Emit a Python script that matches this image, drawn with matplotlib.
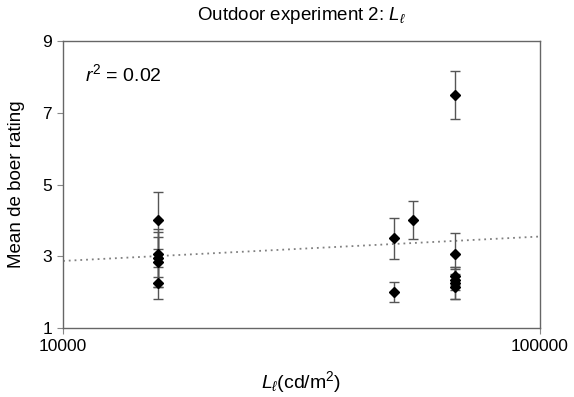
import matplotlib
matplotlib.use("Agg")
import matplotlib.pyplot as plt
from matplotlib.ticker import FixedLocator, FixedFormatter, NullLocator

plt.rcParams['font.family'] = ['Liberation Sans', 'DejaVu Sans']
plt.rcParams['mathtext.fontset'] = 'custom'
plt.rcParams['mathtext.rm'] = 'Liberation Sans'
plt.rcParams['mathtext.it'] = 'Liberation Sans:italic'
plt.rcParams['mathtext.bf'] = 'Liberation Sans:bold'

# data
lum = [15800, 15800, 15800, 15800, 15800,
       49400, 49400,
       54100,
       66300, 66300, 66300, 66300, 66300, 66300]
rating = [4.0, 3.05, 2.95, 2.85, 2.25,
          3.5, 2.0,
          4.0,
          7.5, 3.05, 2.45, 2.35, 2.25, 2.15]
err = [0.8, 0.62, 0.8, 0.7, 0.45,
       0.57, 0.28,
       0.53,
       0.67, 0.6, 0.25, 0.3, 0.45, 0.35]
trend_x = [10000, 100000]
trend_y = [2.87, 3.55]
xticks = [10000, 100000]
xticklabels = ['10000', '100000']
yticks = [1, 3, 5, 7, 9]

fig = plt.figure(figsize=(5.74, 3.97), dpi=100)
ax = fig.add_axes([0.1098, 0.1738, 0.831, 0.7229])

ax.plot(trend_x, trend_y, linestyle=(0, (1, 2.2)), color='#808080', lw=1.3, zorder=1)
ax.errorbar(lum, rating, yerr=err, fmt='D', color='black', ms=5.5,
            ecolor='#555555', elinewidth=1.0, capsize=3.5, capthick=1.0, zorder=3)

ax.set_xscale('log')
ax.set_xlim(10000, 100000)
ax.set_ylim(1, 9)
ax.xaxis.set_major_locator(FixedLocator(xticks))
ax.xaxis.set_major_formatter(FixedFormatter(xticklabels))
ax.xaxis.set_minor_locator(NullLocator())
ax.set_yticks(yticks)

for s in ax.spines.values():
    s.set_color('#666666')
    s.set_linewidth(1.0)
ax.tick_params(axis='both', direction='out', length=4, width=0.8, color='#888888',
               labelsize=12.5, pad=4)

ax.set_title(r'Outdoor experiment 2: $L_\ell$', fontsize=13.5, pad=15)
ax.set_ylabel('Mean de boer rating', fontsize=13.5, labelpad=12)
ax.set_xlabel(r'$L_\ell$(cd/m$^2$)', fontsize=14, labelpad=11)
ax.text(0.046, 0.885, r'$r^2$ = 0.02', transform=ax.transAxes, fontsize=14,
        ha='left', va='center')

fig.savefig('out.png', dpi=100)
